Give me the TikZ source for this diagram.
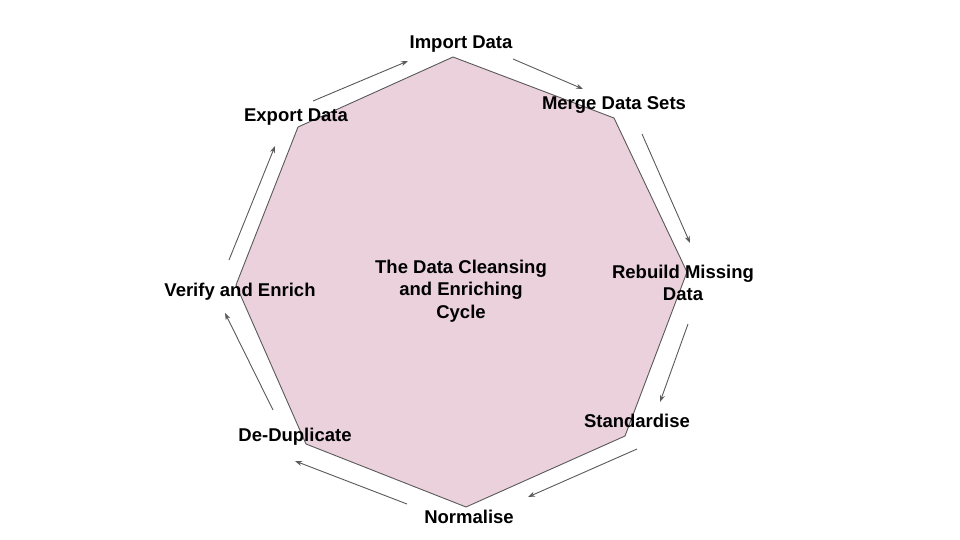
\documentclass[tikz,border=0pt]{standalone}
\usepackage{fontspec}
\setmainfont{Liberation Sans}
\usetikzlibrary{arrows.meta}
\definecolor{octfill}{HTML}{EAD1DC}
\definecolor{edgegrey}{HTML}{595959}
\tikzset{
  lbl/.style={font=\fontsize{18.5}{22.5}\selectfont\bfseries, align=center, inner sep=0pt, text=black},
  flow/.style={draw=edgegrey, line width=0.9pt, -{Stealth[length=7pt,width=5pt]}}
}
\begin{document}
\begin{tikzpicture}[x=1pt,y=-1pt]
\useasboundingbox (0,0) rectangle (960,540);
% octagon
\coordinate (v1) at (453,57);
\coordinate (v2) at (614,118);
\coordinate (v3) at (687,272);
\coordinate (v4) at (625,436);
\coordinate (v5) at (466,507);
\coordinate (v6) at (306,444);
\coordinate (v7) at (236,285);
\coordinate (v8) at (298,127);
\filldraw[fill=octfill, draw=edgegrey, line width=0.9pt] (v1)--(v2)--(v3)--(v4)--(v5)--(v6)--(v7)--(v8)--cycle;
% labels
\node[lbl] (center) at (461,291) {The Data Cleansing\\and Enriching\\Cycle};
\node[lbl] (import) at (461,44) {Import Data};
\node[lbl] (merge) at (614,105) {Merge Data Sets};
\node[lbl] (rebuild) at (683,283) {Rebuild Missing\\Data};
\node[lbl] (stand) at (637,421) {Standardise};
\node[lbl] (norm) at (469,517) {Normalise};
\node[lbl] (dedup) at (295,437) {De-Duplicate};
\node[lbl] (verify) at (240,292) {Verify and Enrich};
\node[lbl] (export) at (296,117) {Export Data};
% arrows
\coordinate (a1s) at (313,101); \coordinate (a1e) at (408,61);
\coordinate (a2s) at (513,59);  \coordinate (a2e) at (583,89);
\coordinate (a3s) at (642,134); \coordinate (a3e) at (690,243);
\coordinate (a4s) at (688,324); \coordinate (a4e) at (660,402);
\coordinate (a5s) at (637,449); \coordinate (a5e) at (528,497);
\coordinate (a6s) at (407,504); \coordinate (a6e) at (295,461);
\coordinate (a7s) at (273,410); \coordinate (a7e) at (225,313);
\coordinate (a8s) at (229,260); \coordinate (a8e) at (275,146);
\draw[flow] (a1s) -- (a1e);
\draw[flow] (a2s) -- (a2e);
\draw[flow] (a3s) -- (a3e);
\draw[flow] (a4s) -- (a4e);
\draw[flow] (a5s) -- (a5e);
\draw[flow] (a6s) -- (a6e);
\draw[flow] (a7s) -- (a7e);
\draw[flow] (a8s) -- (a8e);
\end{tikzpicture}
\end{document}
